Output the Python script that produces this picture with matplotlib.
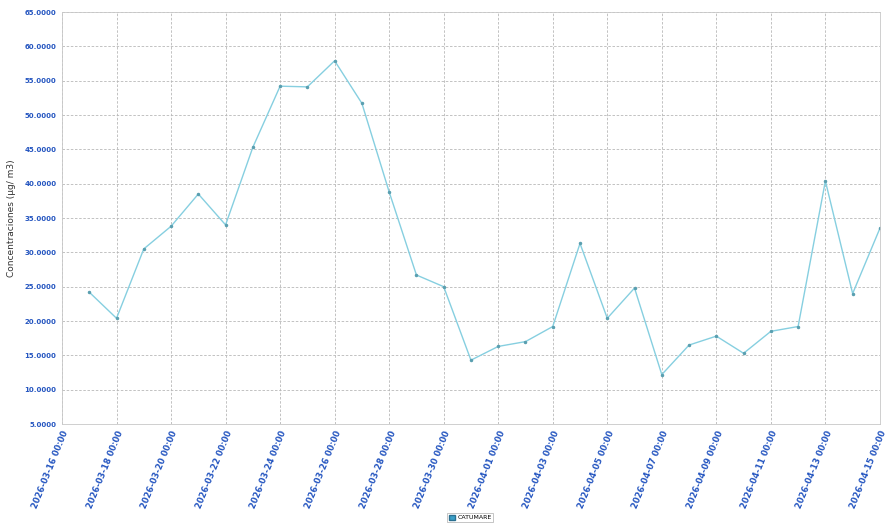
import matplotlib
matplotlib.use("Agg")
import matplotlib.pyplot as plt
import matplotlib.dates as mdates
import numpy as np
import pandas as pd

dates = pd.date_range("2026-03-17", "2026-04-15", freq="D")
values = [24.2, 20.4, 30.5, 33.8, 38.5, 34.0, 45.3, 54.2, 54.1, 57.9,
          51.7, 38.8, 26.7, 25.0, 14.3, 16.3, 17.0, 19.2, 31.3, 20.4,
          24.8, 12.2, 16.5, 17.8, 15.3, 18.5, 19.2, 40.4, 24.0, 33.5]
series_name = "CATUMARE"
y_label = "Concentraciones (µg/ m3)"
x_ticks = pd.date_range("2026-03-16", "2026-04-15", freq="2D")
y_ticks = np.arange(5, 66, 5)

fig = plt.figure(figsize=(8.87, 5.27), dpi=100)
ax = fig.add_axes([0.0699, 0.1954, 0.9221, 0.7818])

ax.plot(dates, values, color="#86cfe0", lw=1.0, marker="o", ms=1.5,
        mfc="#5a9fb0", mec="#5a9fb0", label=series_name)

ax.set_xlim(pd.Timestamp("2026-03-16"), pd.Timestamp("2026-04-15"))
ax.set_ylim(5, 65)
ax.set_xticks(x_ticks)
ax.set_xticklabels([d.strftime("%Y-%m-%d %H:%M") for d in x_ticks],
                   rotation=68, ha="right", rotation_mode="anchor",
                   fontsize=6, fontweight="bold", color="#2455c0")
ax.set_yticks(y_ticks)
ax.set_yticklabels([f"{v:.4f}" for v in y_ticks], fontsize=5,
                   fontweight="bold", color="#2455c0")
ax.tick_params(axis="both", length=0, pad=4)
ax.set_ylabel(y_label, fontsize=6.5, color="#333333", labelpad=6)

ax.grid(True, color="#b8b8b8", lw=0.6, ls=(0, (3, 2)))
for s in ax.spines.values():
    s.set_color("#c8c8c8")
    s.set_linewidth(0.6)

leg = fig.legend(handles=[plt.Rectangle((0, 0), 1, 1, fc="#3aa0c8", ec="#2a6f90")],
                 labels=[series_name], loc="center", bbox_to_anchor=(0.53, 0.018),
                 fontsize=4.5, frameon=True, handlelength=1.0, handleheight=1.0,
                 borderpad=0.3, handletextpad=0.4, fancybox=False)
leg.get_frame().set_edgecolor("#aaaaaa")
leg.get_frame().set_linewidth(0.6)

fig.savefig("out.png", dpi=100)
